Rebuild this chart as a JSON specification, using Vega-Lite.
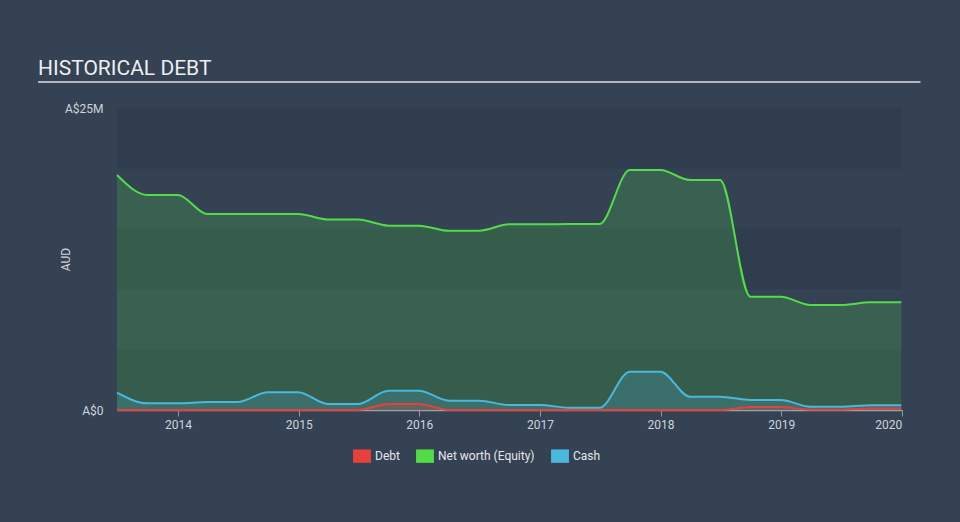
{
  "$schema": "https://vega.github.io/schema/vega-lite/v6.json",
  "width": 785,
  "height": 302,
  "autosize": "none",
  "padding": {"left": 117, "top": 108, "right": 58, "bottom": 112},
  "background": "#344253",
  "config": {
    "view": {"stroke": null},
    "font": "Roboto",
    "axis": {"labelFont": "Roboto", "titleFont": "Roboto", "labelColor": "#d0d4da", "titleColor": "#d0d4da", "labelFontSize": 12, "titleFontSize": 12, "titleFontWeight": "normal", "grid": false},
    "axisX": {"tickColor": "#8e97a2", "tickSize": 6, "domainColor": "#9aa2ac", "domainWidth": 1.5, "labelPadding": 3},
    "axisY": {"ticks": false, "domain": false, "labelPadding": 14, "labelFlush": false, "labelBaseline": "middle"},
    "legend": {"labelFont": "Roboto", "labelColor": "#e4e7ea", "labelFontSize": 12, "symbolType": "M-1,-0.75H1V0.75H-1Z", "symbolSize": 320, "symbolOpacity": 1, "symbolStrokeWidth": 0, "columnPadding": 16, "labelOffset": 4, "padding": 0}
  },
  "title": {"text": "HISTORICAL DEBT", "anchor": "start", "frame": "group", "font": "Roboto", "fontSize": 21, "fontWeight": "normal", "color": "#eceef0", "baseline": "alphabetic", "dx": -79, "dy": 40, "offset": 25},
  "datasets": {
    "fin": [
      {"date": "2013-06-30", "series": "Net worth (Equity)", "value": 19.45},
      {"date": "2013-09-30", "series": "Net worth (Equity)", "value": 17.8},
      {"date": "2013-12-31", "series": "Net worth (Equity)", "value": 17.8},
      {"date": "2014-03-31", "series": "Net worth (Equity)", "value": 16.23},
      {"date": "2014-06-30", "series": "Net worth (Equity)", "value": 16.23},
      {"date": "2014-09-30", "series": "Net worth (Equity)", "value": 16.23},
      {"date": "2014-12-31", "series": "Net worth (Equity)", "value": 16.23},
      {"date": "2015-03-31", "series": "Net worth (Equity)", "value": 15.77},
      {"date": "2015-06-30", "series": "Net worth (Equity)", "value": 15.77},
      {"date": "2015-09-30", "series": "Net worth (Equity)", "value": 15.26},
      {"date": "2015-12-31", "series": "Net worth (Equity)", "value": 15.26},
      {"date": "2016-03-31", "series": "Net worth (Equity)", "value": 14.84},
      {"date": "2016-06-30", "series": "Net worth (Equity)", "value": 14.84},
      {"date": "2016-09-30", "series": "Net worth (Equity)", "value": 15.37},
      {"date": "2016-12-31", "series": "Net worth (Equity)", "value": 15.37},
      {"date": "2017-03-31", "series": "Net worth (Equity)", "value": 15.39},
      {"date": "2017-06-30", "series": "Net worth (Equity)", "value": 15.4},
      {"date": "2017-09-30", "series": "Net worth (Equity)", "value": 19.87},
      {"date": "2017-12-31", "series": "Net worth (Equity)", "value": 19.87},
      {"date": "2018-03-31", "series": "Net worth (Equity)", "value": 19.04},
      {"date": "2018-06-30", "series": "Net worth (Equity)", "value": 19.04},
      {"date": "2018-09-30", "series": "Net worth (Equity)", "value": 9.38},
      {"date": "2018-12-31", "series": "Net worth (Equity)", "value": 9.38},
      {"date": "2019-03-31", "series": "Net worth (Equity)", "value": 8.69},
      {"date": "2019-06-30", "series": "Net worth (Equity)", "value": 8.69},
      {"date": "2019-09-30", "series": "Net worth (Equity)", "value": 8.91},
      {"date": "2019-12-31", "series": "Net worth (Equity)", "value": 8.91},
      {"date": "2013-06-30", "series": "Cash", "value": 1.43},
      {"date": "2013-09-30", "series": "Cash", "value": 0.55},
      {"date": "2013-12-31", "series": "Cash", "value": 0.55},
      {"date": "2014-03-31", "series": "Cash", "value": 0.66},
      {"date": "2014-06-30", "series": "Cash", "value": 0.66},
      {"date": "2014-09-30", "series": "Cash", "value": 1.47},
      {"date": "2014-12-31", "series": "Cash", "value": 1.47},
      {"date": "2015-03-31", "series": "Cash", "value": 0.5},
      {"date": "2015-06-30", "series": "Cash", "value": 0.5},
      {"date": "2015-09-30", "series": "Cash", "value": 1.6},
      {"date": "2015-12-31", "series": "Cash", "value": 1.6},
      {"date": "2016-03-31", "series": "Cash", "value": 0.77},
      {"date": "2016-06-30", "series": "Cash", "value": 0.77},
      {"date": "2016-09-30", "series": "Cash", "value": 0.41},
      {"date": "2016-12-31", "series": "Cash", "value": 0.41},
      {"date": "2017-03-31", "series": "Cash", "value": 0.19},
      {"date": "2017-06-30", "series": "Cash", "value": 0.19},
      {"date": "2017-09-30", "series": "Cash", "value": 3.17},
      {"date": "2017-12-31", "series": "Cash", "value": 3.17},
      {"date": "2018-03-31", "series": "Cash", "value": 1.1},
      {"date": "2018-06-30", "series": "Cash", "value": 1.1},
      {"date": "2018-09-30", "series": "Cash", "value": 0.83},
      {"date": "2018-12-31", "series": "Cash", "value": 0.83},
      {"date": "2019-03-31", "series": "Cash", "value": 0.27},
      {"date": "2019-06-30", "series": "Cash", "value": 0.27},
      {"date": "2019-09-30", "series": "Cash", "value": 0.39},
      {"date": "2019-12-31", "series": "Cash", "value": 0.39},
      {"date": "2013-06-30", "series": "Debt", "value": 0},
      {"date": "2013-09-30", "series": "Debt", "value": 0},
      {"date": "2013-12-31", "series": "Debt", "value": 0},
      {"date": "2014-03-31", "series": "Debt", "value": 0},
      {"date": "2014-06-30", "series": "Debt", "value": 0},
      {"date": "2014-09-30", "series": "Debt", "value": 0},
      {"date": "2014-12-31", "series": "Debt", "value": 0},
      {"date": "2015-03-31", "series": "Debt", "value": 0},
      {"date": "2015-06-30", "series": "Debt", "value": 0},
      {"date": "2015-09-30", "series": "Debt", "value": 0.5},
      {"date": "2015-12-31", "series": "Debt", "value": 0.5},
      {"date": "2016-03-31", "series": "Debt", "value": 0},
      {"date": "2016-06-30", "series": "Debt", "value": 0},
      {"date": "2016-09-30", "series": "Debt", "value": 0},
      {"date": "2016-12-31", "series": "Debt", "value": 0},
      {"date": "2017-03-31", "series": "Debt", "value": 0},
      {"date": "2017-06-30", "series": "Debt", "value": 0},
      {"date": "2017-09-30", "series": "Debt", "value": 0},
      {"date": "2017-12-31", "series": "Debt", "value": 0},
      {"date": "2018-03-31", "series": "Debt", "value": 0},
      {"date": "2018-06-30", "series": "Debt", "value": 0},
      {"date": "2018-09-30", "series": "Debt", "value": 0.25},
      {"date": "2018-12-31", "series": "Debt", "value": 0.25},
      {"date": "2019-03-31", "series": "Debt", "value": 0.02},
      {"date": "2019-06-30", "series": "Debt", "value": 0.02},
      {"date": "2019-09-30", "series": "Debt", "value": 0.13},
      {"date": "2019-12-31", "series": "Debt", "value": 0.13}
    ]
  },
  "layer": [
    {
      "data": {"values": [{"lo": 0, "hi": 5}, {"lo": 10, "hi": 15}, {"lo": 20, "hi": 25}]},
      "mark": {"type": "rect", "color": "#303d4e"},
      "encoding": {
        "y": {"field": "lo", "type": "quantitative", "scale": {"domain": [0, 25], "nice": false, "zero": true}, "axis": {"title": "AUD", "values": [0, 25], "labelExpr": "datum.value == 0 ? 'A$0' : 'A$' + datum.value + 'M'", "titleX": -52, "titleY": 151, "titleAngle": -90, "titleAlign": "center", "titleBaseline": "middle"}},
        "y2": {"field": "hi"}
      }
    },
    {
      "data": {"values": [{"a": "2012-11-03", "b": "2020-02-27", "h": 27.15}]},
      "mark": {"type": "rule", "color": "#b3b8bf", "strokeWidth": 2},
      "encoding": {
        "x": {"field": "a", "type": "temporal", "scale": {"type": "utc", "domain": ["2013-06-30", "2020-01-02"], "nice": false}, "axis": {"title": null, "format": "%Y", "tickCount": {"interval": "year", "step": 1}}},
        "x2": {"field": "b"},
        "y": {"field": "h", "type": "quantitative", "scale": {"domain": [0, 25], "nice": false, "zero": true}, "axis": {"title": "AUD", "values": [0, 25], "labelExpr": "datum.value == 0 ? 'A$0' : 'A$' + datum.value + 'M'", "titleX": -52, "titleY": 151, "titleAngle": -90, "titleAlign": "center", "titleBaseline": "middle"}}
      }
    },
    {
      "data": {"name": "fin"},
      "transform": [{"filter": "datum.series == 'Net worth (Equity)'"}],
      "layer": [
        {"mark": {"type": "area", "interpolate": "monotone", "fillOpacity": 0.2}},
        {"mark": {"type": "line", "interpolate": "monotone", "strokeWidth": 2}}
      ],
      "encoding": {
        "x": {"field": "date", "type": "temporal", "scale": {"type": "utc", "domain": ["2013-06-30", "2020-01-02"], "nice": false}, "axis": {"title": null, "format": "%Y", "tickCount": {"interval": "year", "step": 1}}},
        "y": {"field": "value", "type": "quantitative", "stack": null, "scale": {"domain": [0, 25], "nice": false, "zero": true}, "axis": {"title": "AUD", "values": [0, 25], "labelExpr": "datum.value == 0 ? 'A$0' : 'A$' + datum.value + 'M'", "titleX": -52, "titleY": 151, "titleAngle": -90, "titleAlign": "center", "titleBaseline": "middle"}},
        "color": {"field": "series", "type": "nominal", "scale": {"domain": ["Debt", "Net worth (Equity)", "Cash"], "range": ["#e8403a", "#52dd48", "#4ab8dc"]}, "legend": {"title": null, "orient": "none", "direction": "horizontal", "legendX": 236, "legendY": 339}}
      }
    },
    {
      "data": {"name": "fin"},
      "transform": [{"filter": "datum.series == 'Cash'"}],
      "layer": [
        {"mark": {"type": "area", "interpolate": "monotone", "fillOpacity": 0.22}},
        {"mark": {"type": "line", "interpolate": "monotone", "strokeWidth": 2}}
      ],
      "encoding": {
        "x": {"field": "date", "type": "temporal", "scale": {"type": "utc", "domain": ["2013-06-30", "2020-01-02"], "nice": false}, "axis": {"title": null, "format": "%Y", "tickCount": {"interval": "year", "step": 1}}},
        "y": {"field": "value", "type": "quantitative", "stack": null, "scale": {"domain": [0, 25], "nice": false, "zero": true}, "axis": {"title": "AUD", "values": [0, 25], "labelExpr": "datum.value == 0 ? 'A$0' : 'A$' + datum.value + 'M'", "titleX": -52, "titleY": 151, "titleAngle": -90, "titleAlign": "center", "titleBaseline": "middle"}},
        "color": {"field": "series", "type": "nominal", "scale": {"domain": ["Debt", "Net worth (Equity)", "Cash"], "range": ["#e8403a", "#52dd48", "#4ab8dc"]}, "legend": {"title": null, "orient": "none", "direction": "horizontal", "legendX": 236, "legendY": 339}}
      }
    },
    {
      "data": {"name": "fin"},
      "transform": [{"filter": "datum.series == 'Debt'"}],
      "layer": [
        {"mark": {"type": "area", "interpolate": "monotone", "fillOpacity": 0.25}},
        {"mark": {"type": "line", "interpolate": "monotone", "strokeWidth": 2}}
      ],
      "encoding": {
        "x": {"field": "date", "type": "temporal", "scale": {"type": "utc", "domain": ["2013-06-30", "2020-01-02"], "nice": false}, "axis": {"title": null, "format": "%Y", "tickCount": {"interval": "year", "step": 1}}},
        "y": {"field": "value", "type": "quantitative", "stack": null, "scale": {"domain": [0, 25], "nice": false, "zero": true}, "axis": {"title": "AUD", "values": [0, 25], "labelExpr": "datum.value == 0 ? 'A$0' : 'A$' + datum.value + 'M'", "titleX": -52, "titleY": 151, "titleAngle": -90, "titleAlign": "center", "titleBaseline": "middle"}},
        "color": {"field": "series", "type": "nominal", "scale": {"domain": ["Debt", "Net worth (Equity)", "Cash"], "range": ["#e8403a", "#52dd48", "#4ab8dc"]}, "legend": {"title": null, "orient": "none", "direction": "horizontal", "legendX": 236, "legendY": 339}}
      }
    }
  ]
}
